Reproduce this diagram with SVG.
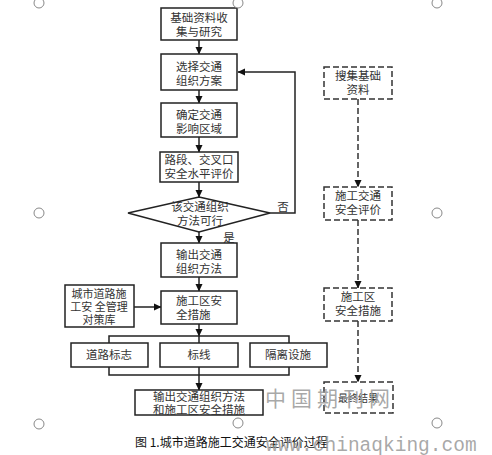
<svg xmlns="http://www.w3.org/2000/svg" width="492" height="455" viewBox="0 0 492 455">
<style>
.box{fill:#fff;stroke:#222;stroke-width:1.5}
.dbox{fill:#fff;stroke:#333;stroke-width:1.5;stroke-dasharray:6 3}
.t{font-family:"Noto Sans CJK SC","Noto Sans CJK JP",sans-serif;font-size:11.5px;fill:#333;text-anchor:middle}
.tl{text-anchor:start}
.ln{fill:none;stroke:#222;stroke-width:1.5}
.dl{fill:none;stroke:#333;stroke-width:1.5;stroke-dasharray:6 3}
.h{fill:#fff;stroke:#888;stroke-width:1}
.wm{font-family:"Noto Sans CJK SC",sans-serif;fill:#999;fill-opacity:0.85}
.cap{font-family:"Noto Sans CJK SC",sans-serif;font-size:12px;fill:#111}
</style>
<defs>
<marker id="ar" markerWidth="8" markerHeight="8" refX="7" refY="4" orient="auto" markerUnits="userSpaceOnUse">
<path d="M0,0.5 L7.5,4 L0,7.5 Z" fill="#111"/>
</marker>
</defs>
<rect width="492" height="455" fill="#fff"/>

<g id="connectors">
<line class="ln" x1="199" y1="40" x2="199" y2="54" marker-end="url(#ar)"/>
<line class="ln" x1="199" y1="90" x2="199" y2="103" marker-end="url(#ar)"/>
<line class="ln" x1="199" y1="137" x2="199" y2="152" marker-end="url(#ar)"/>
<line class="ln" x1="199" y1="182" x2="199" y2="197" marker-end="url(#ar)"/>
<line class="ln" x1="199" y1="232" x2="199" y2="243" marker-end="url(#ar)"/>
<polyline class="ln" points="270,213 295,213 295,72 238,72" marker-end="url(#ar)"/>
<line class="ln" x1="199" y1="277" x2="199" y2="291" marker-end="url(#ar)"/>
<line class="ln" x1="134" y1="307" x2="161" y2="307" marker-end="url(#ar)"/>
<line class="ln" x1="199" y1="324" x2="199" y2="336" marker-end="url(#ar)"/>
<polyline class="ln" points="109,343 109,336 289,336 289,343"/>
<line class="ln" x1="199" y1="336" x2="199" y2="343"/>
<polyline class="ln" points="109,367 109,375 289,375 289,367"/>
<line class="ln" x1="199" y1="367" x2="199" y2="390" marker-end="url(#ar)"/>
<line class="dl" x1="358" y1="99" x2="358" y2="187" marker-end="url(#ar)"/>
<line class="dl" x1="358" y1="220" x2="358" y2="288" marker-end="url(#ar)"/>
<line class="dl" x1="358" y1="321" x2="358" y2="382" marker-end="url(#ar)"/>
</g>

<g id="n1"><rect class="box" x="161" y="8" width="76" height="32"/>
<text class="t" x="199" y="22">基础资料收<tspan x="199" dy="14">集与研究</tspan></text></g>
<g id="n2"><rect class="box" x="161" y="54" width="76" height="36"/>
<text class="t" x="199" y="71">选择交通<tspan x="199" dy="14">组织方案</tspan></text></g>
<g id="n3"><rect class="box" x="161" y="103" width="76" height="34"/>
<text class="t" x="199" y="119">确定交通<tspan x="199" dy="14">影响区域</tspan></text></g>
<g id="n4"><rect class="box" x="160" y="152" width="78" height="30"/>
<text class="t" x="199" y="164">路段、交叉口<tspan x="199" dy="14">安全水平评价</tspan></text></g>
<g id="n5"><polygon class="box" points="199,197 270,213 199,232 128,213"/>
<text class="t" x="200" y="211">该交通组织<tspan x="200" dy="14">方法可行</tspan></text></g>
<text class="t" x="283" y="211">否</text>
<text class="t" x="229" y="242">是</text>
<g id="n6"><rect class="box" x="161" y="243" width="76" height="34"/>
<text class="t" x="199" y="259">输出交通<tspan x="199" dy="14">组织方法</tspan></text></g>
<g id="n7"><rect class="box" x="161" y="291" width="76" height="33"/>
<text class="t tl" x="176" y="305">施工区安<tspan x="176" dy="14">全措施</tspan></text></g>
<g id="n8"><rect class="box" x="65" y="285" width="69" height="42"/>
<text class="t" x="99" y="298" style="font-size:11px">城市道路施<tspan x="99" dy="13">工安 全管理</tspan><tspan x="99" dy="13">对策库</tspan></text></g>
<g id="n9"><rect class="box" x="71" y="343" width="77" height="24"/><text class="t" x="109" y="359">道路标志</text></g>
<g id="n10"><rect class="box" x="160" y="343" width="78" height="24"/><text class="t" x="199" y="359">标线</text></g>
<g id="n11"><rect class="box" x="250" y="343" width="77" height="24"/><text class="t" x="288" y="359">隔离设施</text></g>
<g id="n12"><rect class="box" x="135" y="390" width="128" height="25"/>
<text class="t" x="199" y="401">输出交通组织方法<tspan x="199" dy="13">和施工区安全措施</tspan></text></g>

<g id="r1"><rect class="dbox" x="324" y="67" width="68" height="32"/>
<text class="t" x="358" y="80">搜集基础<tspan x="358" dy="14">资料</tspan></text></g>
<g id="r2"><rect class="dbox" x="324" y="187" width="68" height="33"/>
<text class="t" x="358" y="200">施工交通<tspan x="358" dy="14">安全评价</tspan></text></g>
<g id="r3"><rect class="dbox" x="324" y="288" width="68" height="33"/>
<text class="t" x="358" y="301">施工区<tspan x="358" dy="14">安全措施</tspan></text></g>
<g id="r4"><rect class="dbox" x="324" y="382" width="69" height="31"/>
<text class="t" x="358" y="402" style="font-size:10px">最终结果</text></g>

<g id="handles">
<circle class="h" cx="39" cy="3" r="5"/><circle class="h" cx="238" cy="3" r="5"/><circle class="h" cx="437" cy="3" r="5"/>
<circle class="h" cx="39" cy="213" r="5"/><circle class="h" cx="437" cy="213" r="5"/>
<circle class="h" cx="39" cy="424" r="5"/><circle class="h" cx="238" cy="423" r="5"/><circle class="h" cx="437" cy="423" r="5"/>
</g>

<text class="cap" x="135" y="447">图 1.城市道路施工交通安全评价过程</text>
<text class="wm" x="265" y="406" style="font-size:21px;letter-spacing:5px">中国期刊网</text>
<text class="wm" x="266" y="451" style="font-family:'Liberation Mono',monospace;font-size:19.5px">www.chinaqking.com</text>
</svg>
